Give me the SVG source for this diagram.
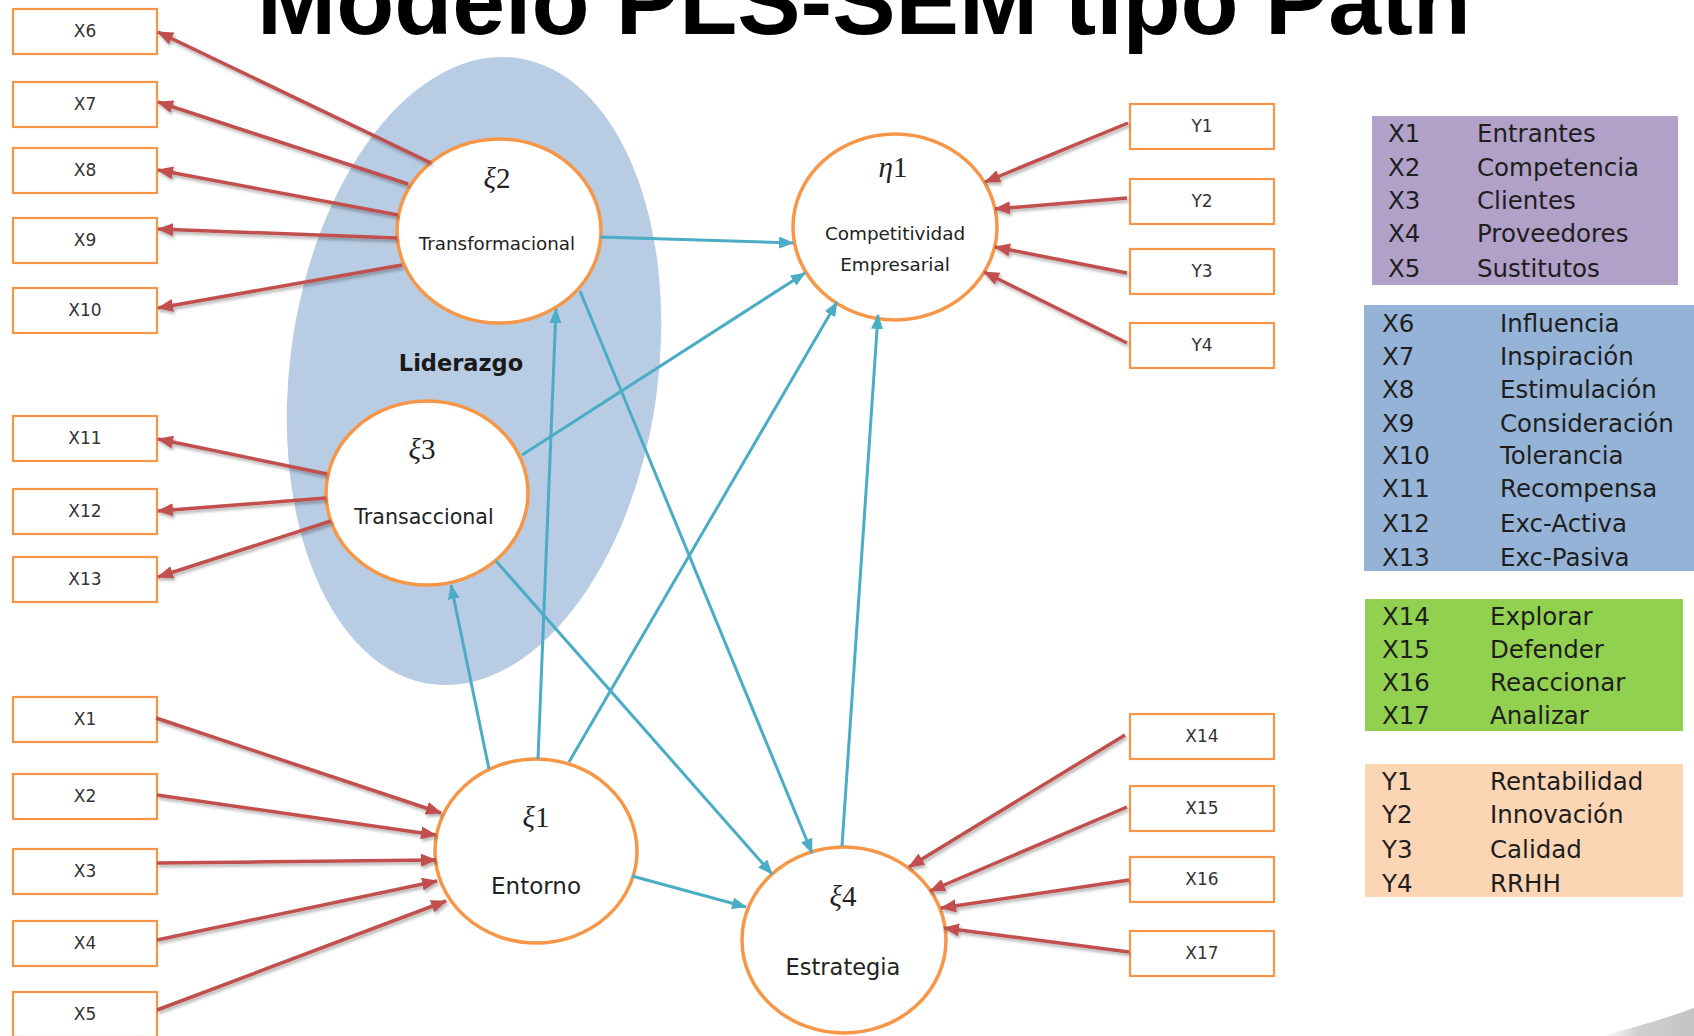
<svg xmlns="http://www.w3.org/2000/svg" width="1694" height="1036" viewBox="0 0 1694 1036">
  <defs>
    <style>
      .title { font-family: "Liberation Sans", Arial, sans-serif; font-weight: bold; font-size: 95px; fill: #000; }
      .box { fill: #fff; stroke: #f79646; stroke-width: 2.2; }
      .boxtxt { font-family: "DejaVu Sans", sans-serif; font-size: 17px; fill: #333; text-anchor: middle; }
      .lat { fill: #fff; stroke: #f79646; stroke-width: 3.5; }
      .greek { font-family: "Liberation Serif", "DejaVu Serif", serif; font-size: 29px; fill: #222; text-anchor: middle; }
      .greek .sym { font-style: italic; }
      .lbl { font-family: "DejaVu Sans", sans-serif; fill: #222; text-anchor: middle; }
      .red { stroke: #c0504d; stroke-width: 3.5; fill: none; marker-end: url(#ahRed); }
      .blue { stroke: #4bacc6; stroke-width: 3; fill: none; marker-end: url(#ahBlue); }
      .leg { font-family: "DejaVu Sans", sans-serif; font-size: 24.5px; fill: #1e1e1e; }
    </style>
    <marker id="ahRed" markerUnits="userSpaceOnUse" viewBox="0 0 16 13" markerWidth="16" markerHeight="13" refX="15" refY="6.5" orient="auto">
      <path d="M0,0 L16,6.5 L0,13 z" fill="#c0504d"/>
    </marker>
    <marker id="ahBlue" markerUnits="userSpaceOnUse" viewBox="0 0 15 12" markerWidth="15" markerHeight="12" refX="14" refY="6" orient="auto">
      <path d="M0,0 L15,6 L0,12 z" fill="#4bacc6"/>
    </marker>
    <filter id="shadow" x="-10%" y="-10%" width="120%" height="130%">
      <feDropShadow dx="1.5" dy="2.5" stdDeviation="1.6" flood-color="#000" flood-opacity="0.3"/>
    </filter>
    <linearGradient id="swoosh" x1="0" y1="0" x2="1" y2="0">
      <stop offset="0" stop-color="#d9d9d9" stop-opacity="0"/>
      <stop offset="0.4" stop-color="#cfcfcf"/>
      <stop offset="1" stop-color="#c4c4c4"/>
    </linearGradient>
  </defs>

  <rect width="1694" height="1036" fill="#fff"/>

  <!-- slide decoration, bottom right -->
  <path d="M1600,1036 Q1650,1024 1694,1008 L1694,1036 Z" fill="url(#swoosh)"/>

  <text class="title" x="257" y="34">Modelo PLS-SEM tipo Path</text>

  <!-- leadership construct area -->
  <g id="liderazgo">
    <ellipse cx="474" cy="371" rx="184" ry="316" transform="rotate(7.8 474 371)" fill="#b8cce4"/>
    <text x="461" y="371" font-family="DejaVu Sans, sans-serif" font-weight="bold" font-size="22.5" fill="#1a1a1a" text-anchor="middle">Liderazgo</text>
  </g>

  <!-- latent variables -->
  <g id="xi2">
    <ellipse class="lat" cx="499" cy="231" rx="102" ry="92"/>
    <text class="greek" x="497" y="188"><tspan class="sym">ξ</tspan>2</text>
    <text class="lbl" x="497" y="250" font-size="18.3">Transformacional</text>
  </g>
  <g id="eta1">
    <ellipse class="lat" cx="895" cy="227" rx="102" ry="93"/>
    <text class="greek" x="893" y="177"><tspan class="sym">η</tspan>1</text>
    <text class="lbl" x="895" y="240" font-size="18.4">Competitividad</text>
    <text class="lbl" x="895" y="271" font-size="18.4">Empresarial</text>
  </g>
  <g id="xi3">
    <ellipse class="lat" cx="427" cy="493" rx="101" ry="92"/>
    <text class="greek" x="422" y="459"><tspan class="sym">ξ</tspan>3</text>
    <text class="lbl" x="424" y="524" font-size="20.6">Transaccional</text>
  </g>
  <g id="xi1">
    <ellipse class="lat" cx="536" cy="851" rx="101" ry="92"/>
    <text class="greek" x="536" y="827"><tspan class="sym">ξ</tspan>1</text>
    <text class="lbl" x="536" y="894" font-size="23">Entorno</text>
  </g>
  <g id="xi4">
    <ellipse class="lat" cx="844" cy="940" rx="102" ry="93"/>
    <text class="greek" x="843" y="906"><tspan class="sym">ξ</tspan>4</text>
    <text class="lbl" x="843" y="975" font-size="22.5">Estrategia</text>
  </g>

  <!-- indicators -->
  <g id="ind-X6"><rect class="box" x="13" y="9" width="144" height="45"/><text class="boxtxt" x="85" y="37">X6</text></g>
  <g id="ind-X7"><rect class="box" x="13" y="82" width="144" height="45"/><text class="boxtxt" x="85" y="110">X7</text></g>
  <g id="ind-X8"><rect class="box" x="13" y="148" width="144" height="45"/><text class="boxtxt" x="85" y="176">X8</text></g>
  <g id="ind-X9"><rect class="box" x="13" y="218" width="144" height="45"/><text class="boxtxt" x="85" y="246">X9</text></g>
  <g id="ind-X10"><rect class="box" x="13" y="288" width="144" height="45"/><text class="boxtxt" x="85" y="316">X10</text></g>
  <g id="ind-X11"><rect class="box" x="13" y="416" width="144" height="45"/><text class="boxtxt" x="85" y="444">X11</text></g>
  <g id="ind-X12"><rect class="box" x="13" y="489" width="144" height="45"/><text class="boxtxt" x="85" y="517">X12</text></g>
  <g id="ind-X13"><rect class="box" x="13" y="557" width="144" height="45"/><text class="boxtxt" x="85" y="585">X13</text></g>
  <g id="ind-X1"><rect class="box" x="13" y="697" width="144" height="45"/><text class="boxtxt" x="85" y="725">X1</text></g>
  <g id="ind-X2"><rect class="box" x="13" y="774" width="144" height="45"/><text class="boxtxt" x="85" y="802">X2</text></g>
  <g id="ind-X3"><rect class="box" x="13" y="849" width="144" height="45"/><text class="boxtxt" x="85" y="877">X3</text></g>
  <g id="ind-X4"><rect class="box" x="13" y="921" width="144" height="45"/><text class="boxtxt" x="85" y="949">X4</text></g>
  <g id="ind-X5"><rect class="box" x="13" y="992" width="144" height="45"/><text class="boxtxt" x="85" y="1020">X5</text></g>
  <g id="ind-Y1"><rect class="box" x="1130" y="104" width="144" height="45"/><text class="boxtxt" x="1202" y="132">Y1</text></g>
  <g id="ind-Y2"><rect class="box" x="1130" y="179" width="144" height="45"/><text class="boxtxt" x="1202" y="207">Y2</text></g>
  <g id="ind-Y3"><rect class="box" x="1130" y="249" width="144" height="45"/><text class="boxtxt" x="1202" y="277">Y3</text></g>
  <g id="ind-Y4"><rect class="box" x="1130" y="323" width="144" height="45"/><text class="boxtxt" x="1202" y="351">Y4</text></g>
  <g id="ind-X14"><rect class="box" x="1130" y="714" width="144" height="45"/><text class="boxtxt" x="1202" y="742">X14</text></g>
  <g id="ind-X15"><rect class="box" x="1130" y="786" width="144" height="45"/><text class="boxtxt" x="1202" y="814">X15</text></g>
  <g id="ind-X16"><rect class="box" x="1130" y="857" width="144" height="45"/><text class="boxtxt" x="1202" y="885">X16</text></g>
  <g id="ind-X17"><rect class="box" x="1130" y="931" width="144" height="45"/><text class="boxtxt" x="1202" y="959">X17</text></g>

  <!-- connectors -->
  <g id="connectors">
    <g filter="url(#shadow)">
      <line class="red" x1="431" y1="163" x2="158" y2="32"/>
      <line class="red" x1="408" y1="184" x2="158" y2="102"/>
      <line class="red" x1="398" y1="215" x2="158" y2="170"/>
      <line class="red" x1="397" y1="238" x2="158" y2="229"/>
      <line class="red" x1="402" y1="265" x2="158" y2="308"/>
      <line class="red" x1="327" y1="474" x2="158" y2="439"/>
      <line class="red" x1="326" y1="498" x2="158" y2="511"/>
      <line class="red" x1="331" y1="521" x2="158" y2="577"/>
      <line class="red" x1="156" y1="718" x2="441" y2="813"/>
      <line class="red" x1="157" y1="795" x2="436" y2="835"/>
      <line class="red" x1="157" y1="863" x2="436" y2="860"/>
      <line class="red" x1="157" y1="940" x2="437" y2="881"/>
      <line class="red" x1="157" y1="1010" x2="446" y2="901"/>
      <line class="red" x1="1128" y1="123" x2="985" y2="182"/>
      <line class="red" x1="1127" y1="198" x2="995" y2="209"/>
      <line class="red" x1="1127" y1="273" x2="995" y2="247"/>
      <line class="red" x1="1127" y1="343" x2="984" y2="272"/>
      <line class="red" x1="1125" y1="735" x2="909" y2="867"/>
      <line class="red" x1="1127" y1="807" x2="930" y2="891"/>
      <line class="red" x1="1129" y1="880" x2="941" y2="908"/>
      <line class="red" x1="1129" y1="952" x2="944" y2="928"/>
    </g>
    <g>
      <line class="blue" x1="600" y1="237" x2="793" y2="243"/>
      <line class="blue" x1="522" y1="455" x2="805" y2="273"/>
      <line class="blue" x1="569" y1="762" x2="837" y2="302"/>
      <line class="blue" x1="842" y1="846" x2="878" y2="315"/>
      <line class="blue" x1="538" y1="759" x2="556" y2="309"/>
      <line class="blue" x1="489" y1="769" x2="451" y2="585"/>
      <line class="blue" x1="580" y1="291" x2="812" y2="853"/>
      <line class="blue" x1="496" y1="561" x2="772" y2="874"/>
      <line class="blue" x1="632" y1="876" x2="746" y2="907"/>
    </g>
  </g>

  <!-- legend -->
  <g id="legend-entorno">
    <rect x="1372" y="116" width="306" height="169" fill="#b1a0c7"/>
    <g class="leg">
      <text x="1388" y="142">X1</text><text x="1477" y="142">Entrantes</text>
      <text x="1388" y="176">X2</text><text x="1477" y="176">Competencia</text>
      <text x="1388" y="209">X3</text><text x="1477" y="209">Clientes</text>
      <text x="1388" y="242">X4</text><text x="1477" y="242">Proveedores</text>
      <text x="1388" y="277">X5</text><text x="1477" y="277">Sustitutos</text>
    </g>
  </g>
  <g id="legend-liderazgo">
    <rect x="1364" y="305" width="330" height="266" fill="#95b3d7"/>
    <g class="leg">
      <text x="1382" y="332">X6</text><text x="1500" y="332">Influencia</text>
      <text x="1382" y="365">X7</text><text x="1500" y="365">Inspiración</text>
      <text x="1382" y="398">X8</text><text x="1500" y="398">Estimulación</text>
      <text x="1382" y="432">X9</text><text x="1500" y="432">Consideración</text>
      <text x="1382" y="464">X10</text><text x="1500" y="464">Tolerancia</text>
      <text x="1382" y="497">X11</text><text x="1500" y="497">Recompensa</text>
      <text x="1382" y="532">X12</text><text x="1500" y="532">Exc-Activa</text>
      <text x="1382" y="566">X13</text><text x="1500" y="566">Exc-Pasiva</text>
    </g>
  </g>
  <g id="legend-estrategia">
    <rect x="1365" y="599" width="318" height="132" fill="#92d050"/>
    <g class="leg">
      <text x="1382" y="625">X14</text><text x="1490" y="625">Explorar</text>
      <text x="1382" y="658">X15</text><text x="1490" y="658">Defender</text>
      <text x="1382" y="691">X16</text><text x="1490" y="691">Reaccionar</text>
      <text x="1382" y="724">X17</text><text x="1490" y="724">Analizar</text>
    </g>
  </g>
  <g id="legend-competitividad">
    <rect x="1365" y="764" width="318" height="133" fill="#fcd5b4"/>
    <g class="leg">
      <text x="1382" y="790">Y1</text><text x="1490" y="790">Rentabilidad</text>
      <text x="1382" y="823">Y2</text><text x="1490" y="823">Innovación</text>
      <text x="1382" y="858">Y3</text><text x="1490" y="858">Calidad</text>
      <text x="1382" y="892">Y4</text><text x="1490" y="892">RRHH</text>
    </g>
  </g>
</svg>
